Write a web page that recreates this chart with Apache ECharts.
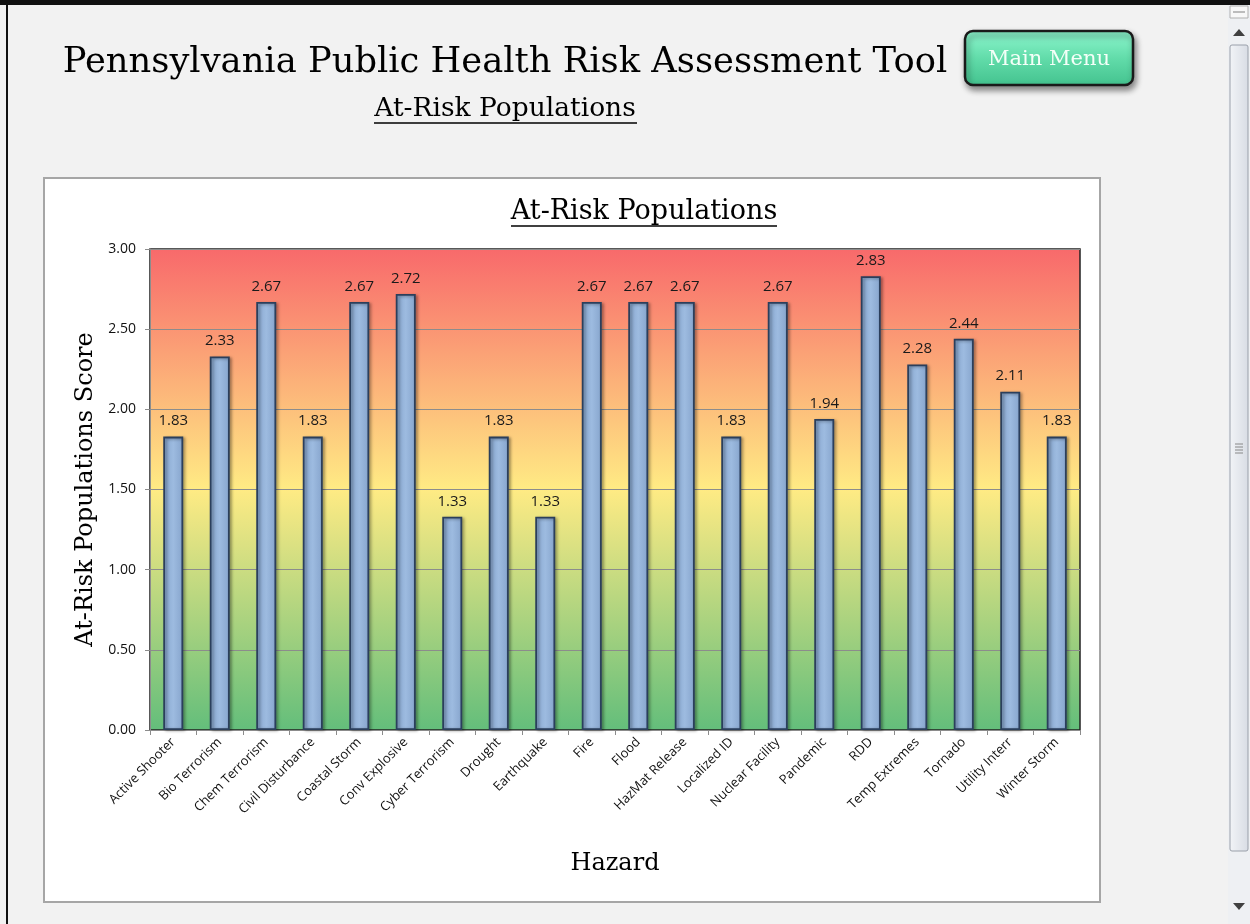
<!DOCTYPE html>
<html>
<head>
<meta charset="utf-8">
<script src="https://cdn.jsdelivr.net/npm/echarts@6/dist/echarts.min.js"></script>
<style>
html,body{margin:0;padding:0;background:#f2f2f2;}
#chart{width:1250px;height:924px;}
</style>
</head>
<body>
<div id="chart"></div>
<script>
const pageTitle = "Pennsylvania Public Health Risk Assessment Tool";
const pageSubtitle = "At-Risk Populations";
const chartTitle = "At-Risk Populations";
const yAxisName = "At-Risk Populations Score";
const xAxisName = "Hazard";
const buttonText = "Main Menu";
const categories = ["Active Shooter","Bio Terrorism","Chem Terrorism","Civil Disturbance","Coastal Storm","Conv Explosive","Cyber Terrorism","Drought","Earthquake","Fire","Flood","HazMat Release","Localized ID","Nuclear Facility","Pandemic","RDD","Temp Extremes","Tornado","Utility Interr","Winter Storm"];
const scores = [1.83,2.33,2.67,1.83,2.67,2.72,1.33,1.83,1.33,2.67,2.67,2.67,1.83,2.67,1.94,2.83,2.28,2.44,2.11,1.83];
const yMin = 0, yMax = 3, yStep = 0.5;

const chart = echarts.init(document.getElementById('chart'), null, {renderer:'canvas'});
const serif = '"DejaVu Serif",serif';
const sans = '"Open Sans","Noto Sans",sans-serif';

const option = {
  backgroundColor: '#f2f2f2',
  animation: false,
  graphic: [
    // window frame
    {type:'rect', shape:{x:0,y:0,width:1250,height:5}, style:{fill:'#111'}, z:0},
    {type:'rect', shape:{x:6,y:0,width:2,height:924}, style:{fill:'#111'}, z:0},
    // chart box
    {type:'rect', shape:{x:44,y:178,width:1056,height:724}, style:{fill:'#ffffff',stroke:'#a6a6a6',lineWidth:2}, z:-10},
    // scrollbar
    {type:'rect', shape:{x:1228,y:5,width:22,height:919}, style:{fill:'#eef0f3'}, z:1},
    {type:'rect', shape:{x:1230,y:6,width:18,height:12}, style:{fill:'#f8f8f8',stroke:'#b0b0b0',lineWidth:1}, z:2},
    {type:'line', shape:{x1:1233,y1:12,x2:1245,y2:12}, style:{stroke:'#808080',lineWidth:1}, z:3},
    {type:'polygon', shape:{points:[[1233,36],[1245,36],[1239,29]]}, style:{fill:'#404040'}, z:2},
    {type:'rect', shape:{x:1230,y:45,width:18,height:806,r:2}, style:{fill:{type:'linear',x:0,y:0,x2:1,y2:0,colorStops:[{offset:0,color:'#f2f4f7'},{offset:1,color:'#d8dce4'}]},stroke:'#9aa0aa',lineWidth:1}, z:2},
    {type:'line', shape:{x1:1235,y1:444,x2:1243,y2:444}, style:{stroke:'#888',lineWidth:1}, z:3},
    {type:'line', shape:{x1:1235,y1:447,x2:1243,y2:447}, style:{stroke:'#888',lineWidth:1}, z:3},
    {type:'line', shape:{x1:1235,y1:450,x2:1243,y2:450}, style:{stroke:'#888',lineWidth:1}, z:3},
    {type:'line', shape:{x1:1235,y1:453,x2:1243,y2:453}, style:{stroke:'#888',lineWidth:1}, z:3},
    {type:'polygon', shape:{points:[[1233,903],[1245,903],[1239,910]]}, style:{fill:'#404040'}, z:2},
    // main menu button
    {type:'rect', shape:{x:965,y:31,width:168,height:54,r:8},
      style:{fill:{type:'linear',x:0,y:0,x2:0,y2:1,colorStops:[{offset:0,color:'#8ff7cf'},{offset:0.5,color:'#62dcaa'},{offset:1,color:'#43c28e'}]},
        stroke:'#1a1a1a',lineWidth:2.5,shadowBlur:6,shadowOffsetX:2,shadowOffsetY:4,shadowColor:'rgba(0,0,0,0.45)'}, z:5},
    {type:'text', x:1049, y:60, style:{text:buttonText, fill:'#f4fff8', font:'21px '+serif, textAlign:'center', textVerticalAlign:'middle'}, z:6},
    // page title
    {type:'text', x:505, y:63, style:{text:pageTitle, fill:'#000', font:'35.3px '+serif, textAlign:'center', textVerticalAlign:'middle'}, z:6},
    {type:'text', x:505, y:109, style:{text:pageSubtitle, fill:'#000', font:'26.5px '+serif, textAlign:'center', textVerticalAlign:'middle'}, z:6},
    {type:'line', shape:{x1:374,y1:123,x2:637,y2:123}, style:{stroke:'#000',lineWidth:1.5}, z:6},
    // chart title
    {type:'text', x:644, y:212, style:{text:chartTitle, fill:'#000', font:'27px '+serif, textAlign:'center', textVerticalAlign:'middle'}, z:6},
    {type:'line', shape:{x1:511,y1:226,x2:777,y2:226}, style:{stroke:'#000',lineWidth:1.5}, z:6}
  ],
  grid: {
    left:150, top:249, right:170, bottom:194, containLabel:false, show:true,
    backgroundColor:{type:'linear',x:0,y:0,x2:0,y2:1,colorStops:[
      {offset:0,color:'#f8696b'},{offset:0.5,color:'#ffeb84'},{offset:1,color:'#63be7b'}]},
    borderColor:'#222', borderWidth:1.5
  },
  xAxis: {
    type:'category', data:categories,
    name:xAxisName, nameLocation:'middle', nameGap:122,
    nameTextStyle:{fontFamily:serif, fontSize:24, color:'#000'},
    axisLine:{show:true, lineStyle:{color:'#8c8c8c', width:1}},
    axisTick:{show:true, alignWithLabel:false, length:5, lineStyle:{color:'#8c8c8c'}},
    axisLabel:{rotate:45, interval:0, fontFamily:sans, fontSize:13, color:'#111', margin:10},
    splitLine:{show:false}
  },
  yAxis: {
    type:'value', min:yMin, max:yMax, interval:yStep,
    name:yAxisName, nameLocation:'middle', nameGap:50, nameRotate:90,
    nameTextStyle:{fontFamily:serif, fontSize:24, color:'#000'},
    axisLine:{show:true, lineStyle:{color:'#8c8c8c', width:1}},
    axisTick:{show:true, length:5, lineStyle:{color:'#8c8c8c'}},
    axisLabel:{formatter:v=>v.toFixed(2), fontFamily:sans, fontSize:14, color:'#111', margin:14},
    splitLine:{show:true, lineStyle:{color:'#8c8c8c', width:1}}
  },
  series: [{
    type:'bar', data:scores, barWidth:20,
    itemStyle:{
      color:{type:'linear',x:0,y:0,x2:1,y2:0,colorStops:[{offset:0,color:'#86a5cd'},{offset:0.5,color:'#9dbbe0'},{offset:1,color:'#86a4cc'}]},
      borderColor:'#2b3f5c', borderWidth:1.8,
      shadowBlur:3, shadowOffsetX:2, shadowOffsetY:1, shadowColor:'rgba(0,0,0,0.35)'
    },
    label:{show:true, position:'top', distance:8, formatter:p=>p.value.toFixed(2), fontFamily:sans, fontSize:15, color:'#1a1a1a'}
  }]
};
chart.setOption(option);
</script>
</body>
</html>
